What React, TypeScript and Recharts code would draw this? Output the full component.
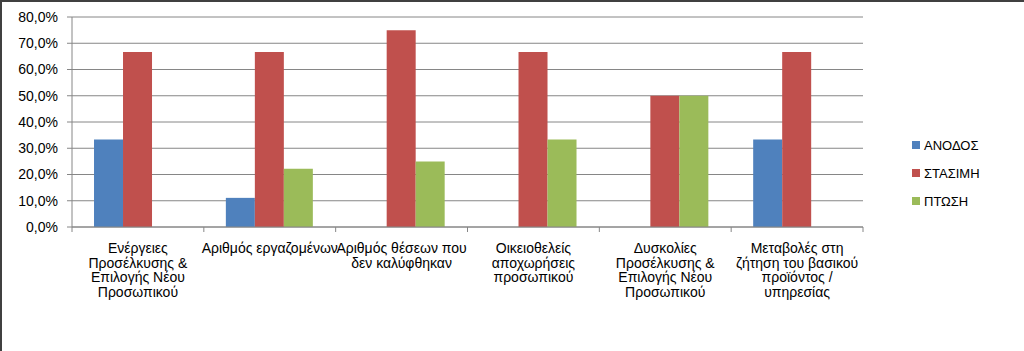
import { BarChart, Bar, XAxis, YAxis, CartesianGrid } from "recharts";

const categories = [
  "Ενέργειες Προσέλκυσης & Επιλογής Νέου Προσωπικού",
  "Αριθμός εργαζομένων",
  "Αριθμός θέσεων που δεν καλύφθηκαν",
  "Οικειοθελείς αποχωρήσεις προσωπικού",
  "Δυσκολίες Προσέλκυσης & Επιλογής Νέου Προσωπικού",
  "Μεταβολές στη ζήτηση του βασικού προϊόντος / υπηρεσίας",
];

// how each category label wraps under the axis
const categoryLines = [
  ["Ενέργειες", "Προσέλκυσης &", "Επιλογής Νέου", "Προσωπικού"],
  ["Αριθμός εργαζομένων"],
  ["Αριθμός θέσεων που", "δεν καλύφθηκαν"],
  ["Οικειοθελείς", "αποχωρήσεις", "προσωπικού"],
  ["Δυσκολίες", "Προσέλκυσης &", "Επιλογής Νέου", "Προσωπικού"],
  ["Μεταβολές στη", "ζήτηση του βασικού", "προϊόντος /", "υπηρεσίας"],
];

const anodos = [33.3, 11.1, 0, 0, 0, 33.3];
const stasimi = [66.7, 66.7, 75.0, 66.7, 50.0, 66.7];
const ptosi = [0, 22.2, 25.0, 33.3, 50.0, 0];

const yTicks = [0, 10, 20, 30, 40, 50, 60, 70, 80];

const series = [
  { key: "anodos", name: "ΑΝΟΔΟΣ", color: "#4F81BD" },
  { key: "stasimi", name: "ΣΤΑΣΙΜΗ", color: "#C0504D" },
  { key: "ptosi", name: "ΠΤΩΣΗ", color: "#9BBB59" },
];

const data = categories.map((name, i) => ({
  name,
  anodos: anodos[i],
  stasimi: stasimi[i],
  ptosi: ptosi[i],
}));

const W = 1024;
const H = 351;
const LEFT = 72;
const RIGHT = 161;
const band = (W - LEFT - RIGHT) / categories.length;
const FONT = "'Liberation Sans', Arial, sans-serif";
const AXIS = "#868686";

const fmt = (v: number) => v.toFixed(1).replace(".", ",") + "%";

const CategoryTick = (props: any) => {
  const { x, y, index } = props;
  const lines = categoryLines[index] ?? [];
  const last = index === categories.length - 1;
  return (
    <g>
      <line x1={x - band / 2} y1={y} x2={x - band / 2} y2={y + 5} stroke={AXIS} />
      {last && <line x1={x + band / 2} y1={y} x2={x + band / 2} y2={y + 5} stroke={AXIS} />}
      <text x={x} y={y} textAnchor="middle" fontSize={14} fontFamily={FONT} fill="#000">
        {lines.map((l, k) => (
          <tspan key={k} x={x} dy={k === 0 ? 26 : 14.5}>
            {l}
          </tspan>
        ))}
      </text>
    </g>
  );
};

export default function App() {
  return (
    <div style={{ position: "absolute", left: 0, top: 0, width: W, height: H, background: "#fff" }}>
      <BarChart
        width={W}
        height={H}
        data={data}
        margin={{ top: 17, right: RIGHT, left: 0, bottom: 0 }}
        barCategoryGap="16.7%"
        barGap={0}
      >
        <CartesianGrid vertical={false} stroke={AXIS} />
        <XAxis
          dataKey="name"
          interval={0}
          height={124}
          tickSize={0}
          tickMargin={0}
          tickLine={false}
          axisLine={{ stroke: AXIS }}
          tick={<CategoryTick />}
        />
        <YAxis
          width={LEFT}
          domain={[0, 80]}
          ticks={yTicks}
          tickFormatter={fmt}
          tickSize={5}
          tickMargin={9}
          axisLine={{ stroke: AXIS }}
          tickLine={{ stroke: AXIS }}
          tick={{ fontSize: 14, fontFamily: FONT, fill: "#000" }}
          interval={0}
        />
        {series.map((s) => (
          <Bar key={s.key} dataKey={s.key} name={s.name} fill={s.color} isAnimationActive={false} />
        ))}
      </BarChart>
      <div
        style={{
          position: "absolute",
          left: 912,
          top: 131,
          fontFamily: FONT,
          fontSize: 13,
          color: "#000",
        }}
      >
        {series.map((s) => (
          <div key={s.key} style={{ display: "flex", alignItems: "center", height: 28 }}>
            <span style={{ width: 8, height: 8, background: s.color, marginRight: 4, display: "inline-block" }} />
            {s.name}
          </div>
        ))}
      </div>
      <div
        style={{
          position: "absolute",
          left: 0,
          top: 0,
          width: W,
          height: H,
          boxSizing: "border-box",
          borderTop: "2px solid #404040",
          borderLeft: "2px solid #404040",
          pointerEvents: "none",
        }}
      />
    </div>
  );
}
